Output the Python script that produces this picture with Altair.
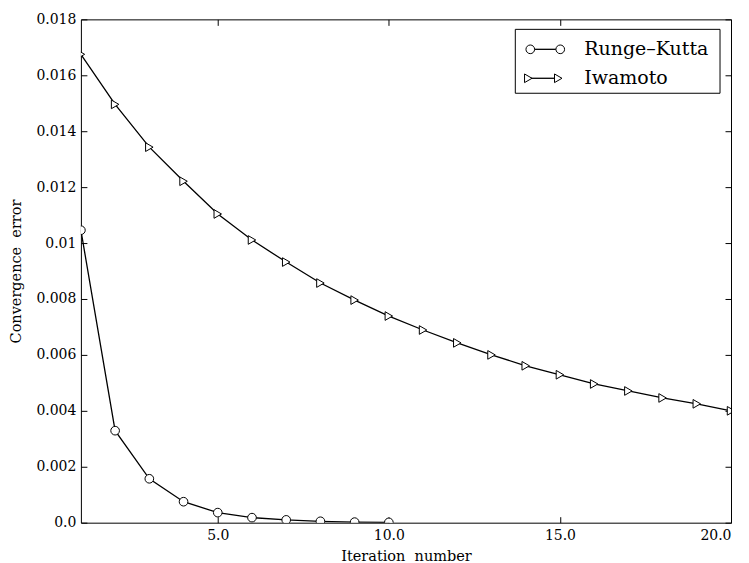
import altair as alt
import pandas as pd

series_names = ["Runge–Kutta", "Iwamoto"]
series_shapes = ["circle", "triangle-right"]
rk_iter = [1, 2, 3, 4, 5, 6, 7, 8, 9, 10]
rk_err = [0.01046, 0.00329, 0.00157, 0.00075, 0.00036, 0.00018, 0.0001, 0.00005, 0.00002, 0.00001]
iw_iter = list(range(1, 21))
iw_err = [0.01675, 0.01496, 0.01343, 0.01221, 0.01104, 0.01011, 0.00932, 0.00857, 0.00796, 0.00739,
          0.00689, 0.00643, 0.00600, 0.00561, 0.00529, 0.00496, 0.00471, 0.00446, 0.00425, 0.00400]
x_ticks = [5, 10, 15, 20]
y_ticks = [0, 0.002, 0.004, 0.006, 0.008, 0.01, 0.012, 0.014, 0.016, 0.018]

df = pd.concat([
    pd.DataFrame({"iter": rk_iter, "err": rk_err, "method": series_names[0]}),
    pd.DataFrame({"iter": iw_iter, "err": iw_err, "method": series_names[1]}),
])

W, H = 651, 504
FONT = "DejaVu Serif"
MSIZE = 75

xscale = alt.Scale(domain=[1, 20], nice=False, zero=False)
yscale = alt.Scale(domain=[0, 0.018], nice=False, zero=False)

def tick_axis(orient, offset, values):
    return alt.Axis(orient=orient, offset=offset, values=values, labels=False, domain=False,
                    grid=False, ticks=True, tickSize=6, tickColor="black", tickWidth=1, title=None)

base = alt.Chart(df)

lines = base.mark_line(color="black", strokeWidth=1.3, clip=True).encode(
    x=alt.X("iter:Q", scale=xscale,
            axis=alt.Axis(orient="bottom", values=x_ticks, format=".1f", ticks=False, domain=False,
                          grid=False, labelPadding=6, labelFont=FONT, labelFontSize=14,
                          labelColor="black", title="Iteration\u00a0 number", titleFont=FONT,
                          titleFontSize=14.5, titleFontWeight="normal", titleColor="black",
                          titlePadding=7)),
    y=alt.Y("err:Q", scale=yscale,
            axis=alt.Axis(orient="left", values=y_ticks,
                          labelExpr="datum.value == 0 ? '0.0' : format(datum.value, '.3~f')",
                          ticks=False, domain=False, grid=False, labelPadding=5, labelFont=FONT,
                          labelFontSize=14, labelColor="black", title="Convergence\u00a0 error",
                          titleFont=FONT, titleFontSize=14.5, titleFontWeight="normal",
                          titleColor="black", titlePadding=12)),
    detail="method:N",
)

points = base.mark_point(filled=True, fill="white", stroke="black", strokeWidth=1, size=MSIZE,
                         opacity=1, clip=True).encode(
    x=alt.X("iter:Q", scale=xscale, axis=tick_axis("top", -H, x_ticks)),
    y=alt.Y("err:Q", scale=yscale, axis=tick_axis("right", -W, y_ticks)),
    shape=alt.Shape("method:N", scale=alt.Scale(domain=series_names, range=series_shapes),
                    legend=None),
)

ghost = base.mark_line(strokeOpacity=0).encode(
    x=alt.X("iter:Q", scale=xscale, axis=tick_axis("bottom", -H, x_ticks)),
    y=alt.Y("err:Q", scale=yscale, axis=tick_axis("left", -W, y_ticks)),
    detail="method:N",
)

# legend (drawn in pixel space inside the plot area, top-right)
legend_layers = [
    alt.Chart(pd.DataFrame({"method": series_names[:1]})).mark_rect(
        fill="white", stroke="black", strokeWidth=1).encode(
        x=alt.value(435), x2=alt.value(640), y=alt.value(10), y2=alt.value(74))
]
row_y = [30, 59]
marker_x = [[450, 480], [448, 478]]
for name, shape, ry, mx in zip(series_names, series_shapes, row_y, marker_x):
    row = alt.Chart(pd.DataFrame({"method": [name]}))
    legend_layers.append(row.mark_rule(color="black", strokeWidth=1.3).encode(
        x=alt.value(mx[0]), x2=alt.value(mx[1]), y=alt.value(ry)))
    for px in mx:
        legend_layers.append(row.mark_point(shape=shape, filled=True, fill="white", stroke="black",
                                            strokeWidth=1, size=MSIZE, opacity=1).encode(
            x=alt.value(px), y=alt.value(ry)))
    legend_layers.append(row.mark_text(align="left", baseline="middle", font=FONT, fontSize=19,
                                       color="black").encode(
        x=alt.value(504), y=alt.value(ry), text=alt.Text("method:N")))

chart = alt.layer(lines, points, ghost, *legend_layers).resolve_axis(
    x="independent", y="independent").properties(
    width=W, height=H,
    autosize=alt.AutoSizeParams(type="none"),
    padding={"left": 73, "top": 11, "right": 10, "bottom": 40},
    background="white",
).configure_view(stroke="black", strokeWidth=1)

chart.save("out.html", embed_options={"renderer": "svg", "actions": False})
